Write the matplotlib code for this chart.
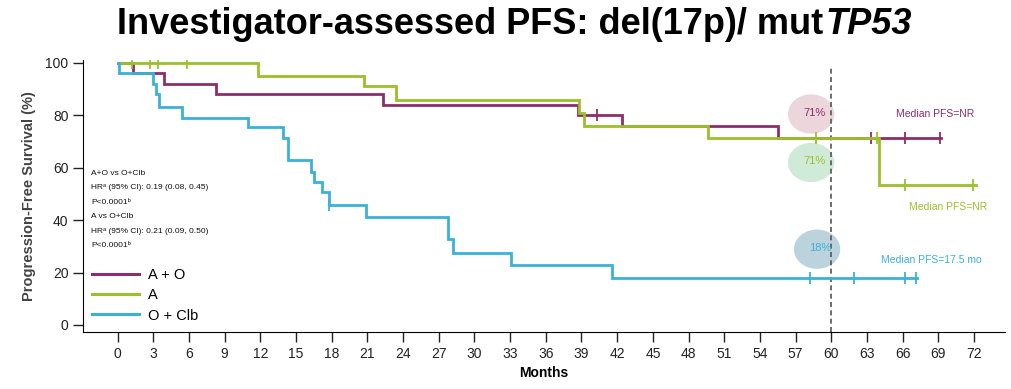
import numpy as np
import matplotlib
matplotlib.use("Agg")
import matplotlib.pyplot as plt
from matplotlib.patches import Ellipse

# ---- data ----
ao_t = [0, 1.3, 3.9, 8.3, 22.3, 38.7, 42.4, 55.5, 69.2]
ao_s = [100, 96, 92, 88, 84, 80, 76, 71.5, 71.5]
ao_cens = [40.3, 63.3, 66.2, 69.1]

a_t = [0, 11.8, 20.7, 23.4, 38.8, 39.2, 49.6, 64.0, 72.2]
a_s = [100, 95, 91, 86, 81, 76, 71.5, 53.5, 53.5]
a_cens = [1.2, 2.7, 3.4, 5.8, 58.7, 63.8, 66.2, 71.9]

oc_t = [0, 0.1, 3.0, 3.2, 3.5, 5.4, 11.0, 13.9, 14.3, 16.3, 16.5, 17.2, 17.8,
        20.9, 27.8, 28.2, 33.1, 41.6, 67.2]
oc_s = [100, 96, 92, 88, 83.3, 79, 75.5, 71.3, 63, 58.5, 54.7, 50.6, 45.8,
        41.1, 32.7, 27.4, 22.9, 18.1, 18.1]
oc_cens = [17.8, 58.2, 61.9, 66.2, 67.1]

series_labels = ["A + O", "A", "O + Clb"]
colors = ["#8C2D6C", "#9CC02C", "#3AB2D8"]
landmark_pct = ["71%", "71%", "18%"]
median_text = ["Median PFS=NR", "Median PFS=NR", "Median PFS=17.5 mo"]
hr_lines = ["A+O vs O+Clb", "HR\u1d43 (95% CI): 0.19 (0.08, 0.45)", "P<0.0001\u1d47",
            "A vs O+Clb", "HR\u1d43 (95% CI): 0.21 (0.09, 0.50)", "P<0.0001\u1d47"]
xticks = list(range(0, 73, 3))
yticks = [0, 20, 40, 60, 80, 100]
title_main = "Investigator-assessed PFS: del(17p)/ mut"
title_gene = "TP53"

sans = ["Liberation Sans", "DejaVu Sans"]

fig = plt.figure(figsize=(10.11, 3.89), dpi=100)
ax = fig.add_axes([0.0821, 0.1465, 0.912, 0.6985])

series = [(ao_t, ao_s, ao_cens), (a_t, a_s, a_cens), (oc_t, oc_s, oc_cens)]
for (t, s, c), col, lab in zip(series, colors, series_labels):
    ax.step(t, s, where="post", color=col, lw=2.0, label=lab, solid_joinstyle="miter")
    t_arr = np.array(t); s_arr = np.array(s)
    cy = [s_arr[np.searchsorted(t_arr, ci, side="right") - 1] for ci in c]
    ax.plot(c, cy, ls="none", marker="|", ms=9, mew=1.3, color=col)

ax.plot([60, 60], [-2.7, 98], ls=(0, (3, 2)), color="#555555", lw=1.2, zorder=1)

# landmark ellipses
ell = [(58.3, 80.5, "#EBD6DC"), (58.3, 62.0, "#D0EAD8"), (58.8, 28.9, "#BCD3DD")]
for (ex, ey, ec), col, txt in zip(ell, colors, landmark_pct):
    ax.add_patch(Ellipse((ex, ey), 3.9, 15, color=ec, zorder=0.5, lw=0))
    ax.text(ex + 0.3, ey + 0.5, txt, color=col, fontsize=8, family=sans,
            ha="center", va="center", zorder=3)

med_pos = [(68.7, 80.5), (69.8, 45.2), (68.4, 24.8)]
for (mx, my), col, txt in zip(med_pos, colors, median_text):
    ax.text(mx, my, txt, color=col, fontsize=7.5, family=sans, ha="center", va="center")

for i, line in enumerate(hr_lines):
    ax.text(-2.2, 57.9 - i * 5.55, line, fontsize=6.0, family=sans,
            ha="left", va="center", color="#111111")

leg = ax.legend(loc="lower left", bbox_to_anchor=(0.0, 0.0), frameon=False,
                handlelength=3.2, borderaxespad=0.25,
                labelspacing=0.42, handletextpad=0.6,
                prop={"family": sans, "size": 10.5})
for h in leg.get_lines():
    h.set_linewidth(2.2)

ax.set_xlim(-2.9, 74.6)
ax.set_ylim(-2.7, 101)
ax.set_xticks(xticks)
ax.set_yticks(yticks)
ax.set_xticklabels([str(v) for v in xticks], family=sans, fontsize=10)
ax.set_yticklabels([str(v) for v in yticks], family=sans, fontsize=10)
ax.tick_params(axis="both", direction="out", length=7, width=1, colors="#222222")
ax.spines["top"].set_visible(False)
ax.spines["right"].set_visible(False)
ax.spines["left"].set_bounds(-2.7, 101)
ax.set_xlabel("Months", fontsize=10, fontweight="bold", family=sans, labelpad=4)
ax.set_ylabel("Progression-Free Survival (%)", fontsize=10.5, fontweight="bold",
              color="#444444", family=sans, labelpad=7)

# title: bold part + bold italic gene name
t1 = fig.text(0.116, 0.938, title_main, ha="left", va="center", fontsize=26,
              fontweight="bold", family=sans)
fig.canvas.draw()
bb = t1.get_window_extent(renderer=fig.canvas.get_renderer())
x_end = bb.x1 / fig.bbox.width
fig.text(x_end + 0.002, 0.938, title_gene, ha="left", va="center", fontsize=26,
         fontweight="bold", fontstyle="italic", family=sans)

fig.savefig("out.png", dpi=100)
